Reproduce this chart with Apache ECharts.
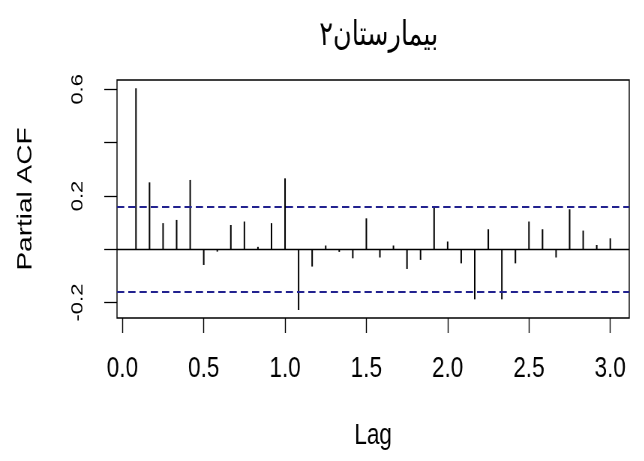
<!DOCTYPE html>
<html><head><meta charset="utf-8">
<script src="https://cdn.jsdelivr.net/npm/echarts@6/dist/echarts.min.js"></script>
<style>
html,body{margin:0;padding:0;background:#fff;overflow:hidden;width:644px;height:461px}
#c{width:859px;height:461px;transform:scaleX(0.75);transform-origin:0 0}
</style>
</head><body><div id="c"></div>
<script>
var titleText = 'بیمارستان۲';
var lags = [1,2,3,4,5,6,7,8,9,10,11,12,13,14,15,16,17,18,19,20,21,22,23,24,25,26,27,28,29,30,31,32,33,34,35,36];
var pacfValues = [0.604,0.251,0.098,0.110,0.260,-0.059,-0.009,0.091,0.104,0.009,0.098,0.266,
  -0.228,-0.065,0.014,-0.010,-0.034,0.116,-0.031,0.014,-0.074,-0.040,0.160,0.029,
  -0.053,-0.188,0.075,-0.188,-0.053,0.104,0.075,-0.031,0.150,0.070,0.016,0.041];
var ciLimit = 0.163;
var xTickValues = [0,0.5,1,1.5,2,2.5,3];
var xTickLabels = ['0.0','0.5','1.0','1.5','2.0','2.5','3.0'];
var yTickValues = [-0.2,0,0.2,0.4,0.6];
var yLabelValues = [-0.2,0.2,0.6];
var yTickLabels = ['-0.2','0.2','0.6'];

var data = lags.map(function(l,i){ return [l/12, pacfValues[i]]; });
var chart = echarts.init(document.getElementById('c'));
chart.setOption({
  animation:false,
  title:{text:titleText,left:500,textAlign:'center',top:14,
    textStyle:{fontFamily:'DejaVu Sans',fontSize:34,fontWeight:'normal',color:'#000'}},
  grid:{left:156,right:20,top:80,bottom:143,show:true,borderColor:'#000',borderWidth:1.4,backgroundColor:'transparent'},
  xAxis:{type:'value',min:-0.0333,max:3.1167,
    axisLine:{show:false,onZero:false},splitLine:{show:false},
    axisTick:{show:true,length:15,customValues:xTickValues,lineStyle:{color:'#000',width:1.4}},
    axisLabel:{customValues:xTickValues,margin:36,fontFamily:'Liberation Sans',fontSize:30,color:'#000',
      formatter:function(v){var i=xTickValues.indexOf(+v.toFixed(2));return i>=0?xTickLabels[i]:'';}},
    name:'Lag',nameLocation:'middle',nameGap:103,
    nameTextStyle:{fontFamily:'Liberation Sans',fontSize:30,color:'#000'}},
  yAxis:{type:'value',min:-0.258,max:0.635,
    axisLine:{show:false,onZero:false},splitLine:{show:false},
    axisTick:{show:true,length:17,customValues:yTickValues,lineStyle:{color:'#000',width:1.3}},
    axisLabel:{customValues:yLabelValues,rotate:90,margin:41,fontFamily:'Liberation Sans',fontSize:22,color:'#000',
      formatter:function(v){var i=yLabelValues.indexOf(+v.toFixed(2));return i>=0?yTickLabels[i]:'';}},
    name:'Partial ACF',nameLocation:'middle',nameRotate:90,nameGap:108,
    nameTextStyle:{fontFamily:'Liberation Sans',fontSize:28,color:'#000'}},
  series:[{type:'bar',data:data,barWidth:2,itemStyle:{color:'#000'},silent:true,
    markLine:{symbol:'none',silent:true,label:{show:false},animation:false,
      data:[
        {yAxis:0,lineStyle:{color:'#000',type:'solid',width:1.3}},
        {yAxis:ciLimit,lineStyle:{color:'#22228f',type:[9.7,5.3],width:1.8}},
        {yAxis:-ciLimit,lineStyle:{color:'#22228f',type:[9.7,5.3],width:1.8}}
      ]}}]
});
</script></body></html>
